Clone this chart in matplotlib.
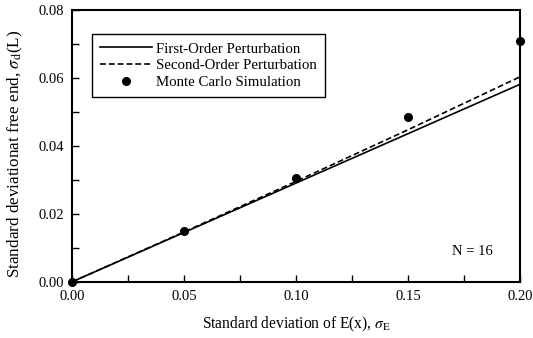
import matplotlib
matplotlib.use('Agg')
import matplotlib.pyplot as plt
from matplotlib.ticker import MultipleLocator

plt.rcParams['font.family'] = ['Liberation Serif', 'DejaVu Serif']
plt.rcParams['mathtext.fontset'] = 'stix'

# Data
sigma_e = [0.00, 0.05, 0.10, 0.15, 0.20]
first_order = [0.0, 0.01455, 0.0291, 0.04365, 0.0582]
second_order = [0.0, 0.0147, 0.0296, 0.0448, 0.0604]
monte_carlo = [0.0, 0.0150, 0.0307, 0.0485, 0.0708]

fig = plt.figure(figsize=(5.33, 3.38), dpi=100)
ax = fig.add_axes([0.135, 0.166, 0.841, 0.804])

ax.plot(sigma_e, first_order, 'k-', linewidth=1.2, label='First-Order Perturbation')
ax.plot(sigma_e, second_order, 'k--', linewidth=1.2, dashes=(3.5, 1.8),
        label='Second-Order Perturbation')
ax.plot(sigma_e, monte_carlo, 'ko', markersize=5.5, linestyle='none',
        label='Monte Carlo Simulation', clip_on=False, zorder=5)

ax.set_xlim(0, 0.2)
ax.set_ylim(0, 0.08)
ax.xaxis.set_major_locator(MultipleLocator(0.05))
ax.xaxis.set_minor_locator(MultipleLocator(0.025))
ax.yaxis.set_major_locator(MultipleLocator(0.02))
ax.yaxis.set_minor_locator(MultipleLocator(0.01))
ax.xaxis.set_major_formatter(plt.FormatStrFormatter('%.2f'))
ax.yaxis.set_major_formatter(plt.FormatStrFormatter('%.2f'))
ax.tick_params(which='both', direction='in', labelsize=10.5, width=1)
ax.tick_params(which='major', length=5, pad=6)
ax.tick_params(which='minor', length=5)
for s in ax.spines.values():
    s.set_linewidth(1.5)

ax.set_xlabel(r'Standard deviation of E(x), $\sigma_{\rm E}$', fontsize=11.2, labelpad=8)
ax.set_ylabel(r'Standard deviationat free end, $\sigma_{\rm d}$(L)', fontsize=12.3, labelpad=5)
ax.yaxis.set_label_coords(-0.105, 0.47)

ax.text(0.1786, 0.0088, 'N = 16', fontsize=10.5, ha='center', va='center')

leg = ax.legend(loc='upper left', bbox_to_anchor=(0.045, 0.912), borderaxespad=0,
                fancybox=False, edgecolor='black', fontsize=10.7, handlelength=3.5,
                handletextpad=0.25, labelspacing=0.22, borderpad=0.55, framealpha=1)
leg.get_frame().set_linewidth(1.0)

fig.savefig('out.png', dpi=100)
